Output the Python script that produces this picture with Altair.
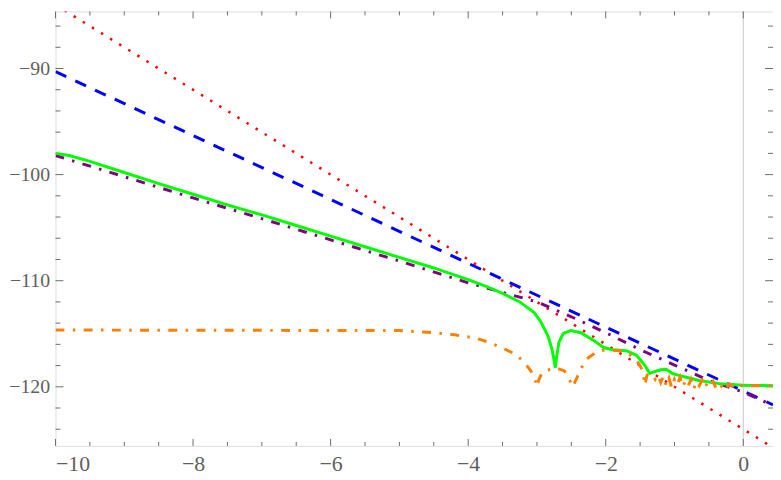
import altair as alt
import pandas as pd

# ---------------- data ----------------
red_x = [-10.0, 0.432]
red_y = [-84.0, -125.73]

blue_x = [-10.0, 0.432]
blue_y = [-90.3, -121.7]

purple_x = [-10.0, -8.0, -7.0, -6.0, -5.0, -4.0, -3.5, -3.0, -2.5, -2.0, -1.5, -1.0, -0.5, 0.0, 0.432]
purple_y = [-98.2, -102.2, -104.15, -106.15, -108.15, -110.2, -111.1, -112.0, -113.4, -114.9, -116.5, -117.95, -119.4, -120.5, -121.75]

green_x = [-10.0, -9.8, -9.5, -9.0, -8.5, -8.0, -7.5, -7.0, -6.5, -6.0, -5.5, -5.0, -4.5, -4.0,
           -3.75, -3.5, -3.25, -3.04, -2.95, -2.84, -2.78, -2.75, -2.733, -2.715, -2.68, -2.62,
           -2.51, -2.36, -2.17, -2.03, -1.9, -1.7, -1.55, -1.43, -1.36, -1.3, -1.2, -1.12,
           -1.03, -0.95, -0.83, -0.64, -0.35, 0.0, 0.432]
green_y = [-98.0, -98.2, -98.75, -99.8, -100.85, -101.85, -102.85, -103.8, -104.8, -105.8, -106.8,
           -107.8, -108.8, -109.9, -110.5, -111.2, -112.0, -113.0, -113.8, -115.2, -116.5, -117.5,
           -118.2, -117.2, -115.8, -115.0, -114.7, -114.9, -115.65, -116.3, -116.5, -116.6, -117.05,
           -118.0, -118.75, -118.6, -118.4, -118.35, -118.75, -118.9, -119.1, -119.4, -119.7,
           -119.85, -119.9]

orange_x = [-10.0, -5.0, -4.5, -4.2, -3.9, -3.7, -3.52, -3.32, -3.18, -3.08, -3.02, -3.0, -2.97,
            -2.92, -2.73, -2.6, -2.53, -2.48, -2.43, -2.38, -2.3, -2.13, -2.0, -1.8, -1.7, -1.6,
            -1.52, -1.46, -1.43, -1.40, -1.35,
            -1.32, -1.28, -1.24, -1.2, -1.16, -1.12, -1.08, -1.04, -1.0, -0.96, -0.92, -0.88,
            -0.84, -0.8, -0.76, -0.72, -0.68, -0.64, -0.6, -0.56, -0.52, -0.48, -0.44, -0.4,
            -0.36, -0.32, -0.28, -0.24, -0.2, -0.16, -0.12, -0.08, -0.04, 0.0, 0.04, 0.08,
            0.12, 0.2, 0.432]
orange_y = [-114.65, -114.7, -114.9, -115.1, -115.4, -115.8, -116.3, -116.9, -117.7, -118.6,
            -119.5, -120.0, -119.3, -118.6, -118.2, -118.5, -119.3, -120.0, -119.3, -118.6,
            -117.5, -116.7, -116.5, -116.6, -116.75, -117.2, -117.8, -118.5, -119.85, -118.9,
            -118.8,
            -118.8, -119.3, -118.9, -119.6, -119.0, -119.9, -119.2, -120.1, -119.3, -119.8,
            -119.1, -120.0, -119.4, -119.9, -119.3, -120.2, -119.5, -119.9, -119.4, -120.1,
            -119.6, -119.9, -119.5, -120.1, -119.7, -119.95, -119.6, -120.05, -119.75, -119.95,
            -119.8, -120.0, -119.85, -119.95, -119.9, -119.92, -119.9, -119.9, -119.9]

x_tick_labels = [-10, -8, -6, -4, -2, 0]
y_tick_labels = [-120, -110, -100, -90]
x_minor = [v / 2 for v in range(-20, 1)]          # every 0.5
y_minor = [v for v in range(-124, -85, 2)]        # every 2
zero_line = [0]

# ---------------- layout ----------------
W, H = 725, 439
XDOM = [-10.0, 0.432]
YDOM = [-125.57, -84.62]
FRAME = "#6b6b6b"
LABEL = "#5f5f5f"
FONT = "Liberation Serif"

xs = alt.Scale(domain=XDOM, nice=False, zero=False)
ys = alt.Scale(domain=YDOM, nice=False, zero=False)


def df(x, y):
    return pd.DataFrame({"x": x, "y": y})


def curve(x, y, color, width, dash=None):
    kw = dict(color=color, strokeWidth=width, clip=True, strokeCap="butt")
    if dash is not None:
        kw["strokeDash"] = dash
    return alt.Chart(df(x, y)).mark_line(**kw).encode(
        x=alt.X("x:Q", scale=xs), y=alt.Y("y:Q", scale=ys), order="x:Q"
    )


# axes with labels only
base_axes = alt.Chart(df([XDOM[0]], [YDOM[0]])).mark_point(opacity=0).encode(
    x=alt.X("x:Q", scale=xs, axis=alt.Axis(values=x_tick_labels, title=None, ticks=False, tickSize=0,
                                           domain=False, grid=False, labelFont=FONT, labelFontSize=22,
                                           labelColor=LABEL, labelPadding=8, format="d")),
    y=alt.Y("y:Q", scale=ys, axis=alt.Axis(values=y_tick_labels, title=None, ticks=False, tickSize=0,
                                           domain=False, grid=False, labelFont=FONT, labelFontSize=20,
                                           labelColor=LABEL, labelPadding=6, format="d")),
)

zl = alt.Chart(pd.DataFrame({"x": zero_line})).mark_rule(color="#c8c8c8", strokeWidth=1).encode(
    x=alt.X("x:Q", scale=xs)
)

xt = pd.DataFrame({"x": x_minor})
xt["major"] = [abs(v) % 2 == 0 for v in x_minor]
yt = pd.DataFrame({"y": y_minor})
yt["major"] = [v % 10 == 0 for v in y_minor]


def xticks(major, y0, y1):
    return alt.Chart(xt[xt["major"] == major]).mark_rule(color=FRAME, strokeWidth=1).encode(
        x=alt.X("x:Q", scale=xs), y=alt.value(y0), y2=alt.value(y1))


def yticks(major, x0, x1):
    return alt.Chart(yt[yt["major"] == major]).mark_rule(color=FRAME, strokeWidth=1).encode(
        y=alt.Y("y:Q", scale=ys), x=alt.value(x0), x2=alt.value(x1))


ticks = [
    xticks(True, H, H - 7), xticks(False, H, H - 4),
    xticks(True, 0, 7), xticks(False, 0, 4),
    yticks(True, 0, 8), yticks(False, 0, 5),
    yticks(True, W, W - 8), yticks(False, W, W - 5),
]

layers = [base_axes, zl] + ticks + [
    curve(red_x, red_y, "#ff0000", 2.5, [2.5, 8.3]),
    curve(blue_x, blue_y, "#0000ff", 3, [12, 10]),
    curve(purple_x, purple_y, "#800080", 3, [9, 8.5, 2.5, 8.5]),
    curve(green_x, green_y, "#00ff00", 3),
    curve(orange_x, orange_y, "#ff8000", 3, [9, 8.5, 2.5, 8.5]),
]

chart = alt.layer(*layers).properties(
    width=W, height=H,
    autosize=alt.AutoSizeParams(type="none"),
    padding={"left": 48, "top": 1, "right": 0, "bottom": 32},
).configure_view(stroke=FRAME, strokeWidth=1).configure(background="white")

chart.save("out.html", embed_options={"renderer": "svg", "actions": False})
